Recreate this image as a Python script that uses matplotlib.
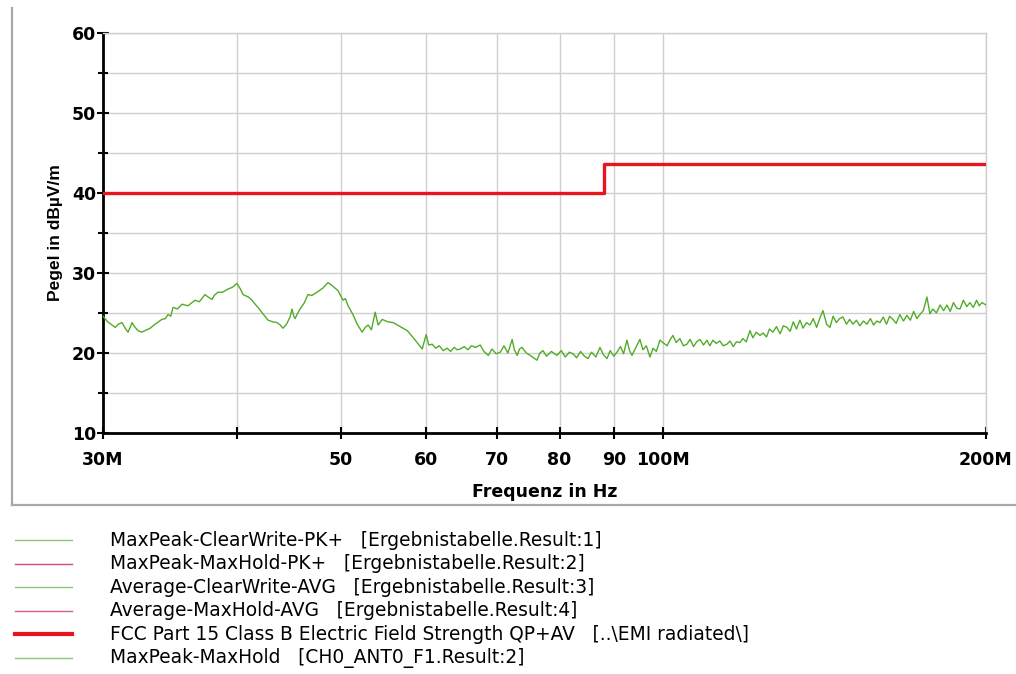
import matplotlib
matplotlib.use("Agg")
import matplotlib.pyplot as plt
from matplotlib.lines import Line2D
from matplotlib.ticker import FixedLocator, FixedFormatter, NullFormatter

plt.rcParams['font.family'] = ['DejaVu Sans']

# measured field strength (MaxPeak-MaxHold), frequency in MHz, level in dBuV/m
freq_mhz = [
    30.0, 30.3, 30.8, 31.0, 31.25, 31.5, 31.66, 31.8, 31.93, 32.1, 32.34, 32.6, 32.83, 33.2,
    33.55, 33.8, 34.05, 34.3, 34.5, 34.7, 34.87, 35.2, 35.55, 36.0, 36.56, 36.9, 37.35, 37.6,
    37.92, 38.1, 38.41, 38.8, 39.24, 39.6, 40.01, 40.3, 40.53, 41.0, 41.32, 41.6, 41.86, 42.3,
    42.77, 43.2, 43.6, 43.9, 44.17, 44.5, 44.84, 45.03, 45.2, 45.32, 45.55, 45.81, 46.2, 46.6,
    47.0, 47.51, 48.1, 48.65, 49.1, 49.7, 50.24, 50.5, 50.79, 51.33, 51.8, 52.35, 52.7, 53.03,
    53.4, 53.84, 54.18, 54.66, 55.3, 55.96, 56.8, 57.67, 58.6, 59.56, 60.07, 60.4, 60.86, 61.3,
    61.8, 62.3, 62.84, 63.3, 63.8, 64.2, 64.63, 65.2, 65.7, 66.2, 66.8, 67.47, 68.0, 68.64,
    69.2, 69.8, 70.43, 71.0, 71.6, 72.26, 72.6, 73.05, 73.4, 73.8, 74.5, 75.3, 76.22, 76.7,
    77.21, 77.8, 78.6, 79.57, 80.3, 81.0, 81.7, 82.35, 83.0, 83.7, 84.4, 85.04, 85.7, 86.5,
    87.26, 87.9, 88.58, 89.2, 89.9, 90.5, 91.2, 91.8, 92.47, 93.0, 93.47, 94.2, 95.08, 95.7,
    96.4, 97.15, 97.8, 98.5, 99.26, 99.91, 100.8, 101.4, 102.07, 102.8, 103.6, 104.4, 105.19,
    105.9, 106.7, 107.4, 108.17, 109.0, 109.8, 110.5, 111.23, 112.0, 112.9, 113.7, 114.63,
    115.4, 116.2, 117.0, 117.88, 118.6, 119.5, 120.44, 121.2, 122.1, 123.06, 123.9, 124.8,
    125.6, 126.54, 127.5, 128.5, 129.4, 130.41, 131.3, 132.2, 133.1, 134.1, 135.0, 136.0,
    137.01, 138.0, 139.0, 140.0, 140.89, 142.0, 143.03, 144.0, 145.0, 146.0, 147.08, 148.2,
    149.2, 150.27, 151.4, 152.5, 153.7, 154.86, 156.0, 157.1, 158.2, 159.24, 160.4, 161.5,
    162.6, 163.75, 164.9, 166.2, 167.5, 168.75, 170.0, 171.2, 172.4, 173.52, 174.8, 176.16,
    177.3, 178.45, 179.8, 181.2, 182.6, 183.9, 185.2, 186.5, 187.8, 189.12, 190.5, 191.9,
    193.23, 194.6, 196.0, 197.1, 198.28, 200.0,
]
level_db = [
    24.6, 23.9, 23.2, 23.6, 23.8, 23.0, 22.6, 23.2, 23.8, 23.3, 22.8, 22.6, 22.8, 23.1,
    23.6, 23.9, 24.2, 24.3, 24.8, 24.6, 25.7, 25.5, 26.1, 25.9, 26.6, 26.4, 27.3, 27.0,
    26.7, 27.2, 27.6, 27.6, 28.0, 28.2, 28.7, 28.0, 27.3, 27.0, 26.6, 26.1, 25.7, 24.9,
    24.1, 23.9, 23.8, 23.5, 23.1, 23.6, 24.5, 25.5, 24.6, 24.3, 24.9, 25.5, 26.2, 27.3,
    27.2, 27.6, 28.1, 28.8, 28.4, 27.8, 26.6, 26.8, 25.9, 24.8, 23.6, 22.6, 23.2, 23.5,
    22.9, 25.1, 23.5, 24.2, 23.9, 23.8, 23.3, 22.8, 21.7, 20.5, 22.3, 21.0, 21.1, 20.6,
    20.9, 20.3, 20.6, 20.2, 20.7, 20.4, 20.5, 20.8, 20.4, 20.9, 20.7, 21.0, 20.2, 19.7,
    20.5, 19.9, 20.1, 20.9, 20.0, 21.7, 20.4, 19.7, 20.5, 20.7, 20.0, 19.6, 19.1, 20.0,
    20.3, 19.6, 20.2, 19.7, 20.3, 19.5, 20.1, 19.9, 19.4, 20.2, 19.6, 19.3, 20.1, 19.5,
    20.7, 19.8, 19.3, 20.3, 19.6, 20.1, 20.8, 19.9, 21.6, 20.3, 19.7, 20.6, 21.7, 20.4,
    20.9, 19.5, 20.6, 20.2, 21.6, 21.3, 20.9, 21.6, 22.2, 21.3, 21.8, 20.9, 21.1,
    21.7, 20.8, 21.4, 21.7, 21.0, 21.6, 20.9, 21.6, 21.2, 21.5, 20.9, 21.1,
    21.5, 20.8, 21.4, 21.3, 21.8, 21.4, 22.8, 21.9, 22.6, 22.2, 22.5, 22.0,
    23.0, 22.6, 23.3, 22.4, 23.4, 23.2, 22.7, 23.9, 23.0, 24.1, 23.1, 23.8,
    23.5, 24.3, 23.2, 24.4, 25.3, 23.6, 23.2, 24.6, 23.8, 24.3, 24.5, 23.6,
    24.2, 23.6, 24.1, 23.4, 24.0, 23.6, 24.3, 23.5, 24.0, 23.8, 24.5, 23.6,
    24.6, 24.2, 23.7, 24.8, 24.0, 24.7, 24.1, 25.2, 24.3, 24.8, 25.3, 27.0,
    24.9, 25.5, 25.0, 26.0, 25.3, 26.0, 25.2, 26.3, 25.6, 25.5, 26.6, 25.8,
    26.3, 25.7, 26.6, 25.9, 26.3, 26.0,
]

# FCC Part 15 Class B limit (step at 88 MHz)
limit_freq = [30, 88, 88, 200]
limit_db = [40, 40, 43.6, 43.6]

xtick_vals = [30, 40, 50, 60, 70, 80, 90, 100, 200]
xtick_text = ['30M', '', '50', '60', '70', '80', '90', '100M', '200M']
ytick_vals = [10, 20, 30, 40, 50, 60]
yminor_vals = [15, 25, 35, 45, 55]

legend_text = [
    'MaxPeak-ClearWrite-PK+   [Ergebnistabelle.Result:1]',
    'MaxPeak-MaxHold-PK+   [Ergebnistabelle.Result:2]',
    'Average-ClearWrite-AVG   [Ergebnistabelle.Result:3]',
    'Average-MaxHold-AVG   [Ergebnistabelle.Result:4]',
    'FCC Part 15 Class B Electric Field Strength QP+AV   [..\\EMI radiated\\]',
    'MaxPeak-MaxHold   [CH0_ANT0_F1.Result:2]',
]
legend_color = ['#8cc47a', '#d04a86', '#8cc47a', '#d85a92', '#e8141e', '#8cc47a']
legend_width = [1.0, 1.0, 1.0, 1.0, 3.0, 1.0]

fig = plt.figure(figsize=(10.16, 6.74), dpi=100)
ax = fig.add_axes([103 / 1016, 1 - 433 / 674, 883 / 1016, 400 / 674])

ax.plot(freq_mhz, level_db, color='#52ac28', lw=1.0, zorder=3)
ax.plot(limit_freq, limit_db, color='#e8141e', lw=2.4, zorder=4)

ax.set_xscale('log')
ax.set_xlim(30, 200)
ax.set_ylim(10, 60)

ax.xaxis.set_major_locator(FixedLocator(xtick_vals))
ax.xaxis.set_major_formatter(FixedFormatter(xtick_text))
ax.xaxis.set_minor_locator(FixedLocator([]))
ax.xaxis.set_minor_formatter(NullFormatter())
ax.yaxis.set_major_locator(FixedLocator(ytick_vals))
ax.yaxis.set_minor_locator(FixedLocator(yminor_vals))

ax.tick_params(axis='both', which='both', direction='inout', width=1.5, color='black')
ax.tick_params(axis='both', which='major', length=8)
ax.tick_params(axis='y', which='minor', length=7)
ax.tick_params(axis='x', which='major', pad=9)
ax.tick_params(axis='y', which='major', pad=1)
for lab in ax.get_xticklabels() + ax.get_yticklabels():
    lab.set_fontweight('bold')
    lab.set_fontsize(12.5)

ax.grid(True, which='both', color='#cfcfcf', lw=1.0)
for side in ('top', 'right'):
    ax.spines[side].set_color('#cfcfcf')
    ax.spines[side].set_linewidth(1.0)
for side in ('left', 'bottom'):
    ax.spines[side].set_color('black')
    ax.spines[side].set_linewidth(2.0)

ax.set_xlabel('Frequenz in Hz', fontsize=12.5, fontweight='bold', labelpad=10)
ax.set_ylabel('Pegel in dBµV/m', fontsize=12.5, fontweight='bold', labelpad=6,
              family='Liberation Sans')

# frame round the diagram part
fig.add_artist(Line2D([12 / 1016, 12 / 1016], [1 - 8 / 674, 1 - 505 / 674],
                      color='#a8a8a8', lw=1.6))
fig.add_artist(Line2D([12 / 1016, 1.0], [1 - 505 / 674, 1 - 505 / 674],
                      color='#a8a8a8', lw=1.6))

# trace list below the chart
row_y = 540
for txt, col, w in zip(legend_text, legend_color, legend_width):
    yy = 1 - row_y / 674
    fig.add_artist(Line2D([15 / 1016, 72 / 1016], [yy, yy], color=col, lw=w))
    fig.text(110 / 1016, yy, txt, fontsize=13.4, va='center', ha='left')
    row_y += 23.6

fig.savefig('out.png', dpi=100)
